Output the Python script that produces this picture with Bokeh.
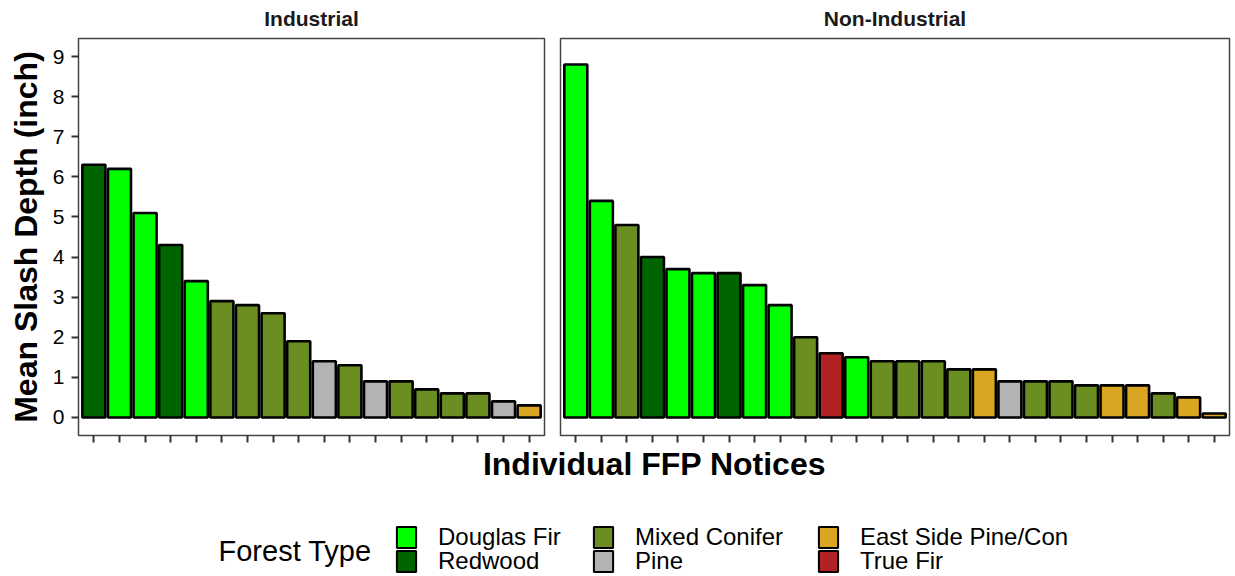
from bokeh.plotting import figure
from bokeh.layouts import column, row
from bokeh.models import ColumnDataSource, Range1d, FixedTicker, Label, Legend, LegendItem
from bokeh.transform import factor_cmap
from bokeh.embed import file_html
from bokeh.resources import INLINE

# ---------------- data ----------------
forest_types = ["Douglas Fir", "Redwood", "Mixed Conifer", "Pine", "East Side Pine/Con", "True Fir"]
type_colors = ["#00FF00", "#006400", "#6B8E23", "#B3B3B3", "#DAA520", "#B22222"]

ind_depth = [6.3, 6.2, 5.1, 4.3, 3.4, 2.9, 2.8, 2.6, 1.9, 1.4, 1.3, 0.9, 0.9, 0.7, 0.6, 0.6, 0.4, 0.3]
ind_type = ["Redwood", "Douglas Fir", "Douglas Fir", "Redwood", "Douglas Fir",
            "Mixed Conifer", "Mixed Conifer", "Mixed Conifer", "Mixed Conifer", "Pine",
            "Mixed Conifer", "Pine", "Mixed Conifer", "Mixed Conifer", "Mixed Conifer",
            "Mixed Conifer", "Pine", "East Side Pine/Con"]

nonind_depth = [8.8, 5.4, 4.8, 4.0, 3.7, 3.6, 3.6, 3.3, 2.8, 2.0, 1.6, 1.5, 1.4, 1.4, 1.4,
                1.2, 1.2, 0.9, 0.9, 0.9, 0.8, 0.8, 0.8, 0.6, 0.5, 0.1]
nonind_type = ["Douglas Fir", "Douglas Fir", "Mixed Conifer", "Redwood", "Douglas Fir",
               "Douglas Fir", "Redwood", "Douglas Fir", "Douglas Fir", "Mixed Conifer",
               "True Fir", "Douglas Fir", "Mixed Conifer", "Mixed Conifer", "Mixed Conifer",
               "Mixed Conifer", "East Side Pine/Con", "Pine", "Mixed Conifer", "Mixed Conifer",
               "Mixed Conifer", "East Side Pine/Con", "East Side Pine/Con", "Mixed Conifer",
               "East Side Pine/Con", "East Side Pine/Con"]

y_ticks = [0, 1, 2, 3, 4, 5, 6, 7, 8, 9]
panel_titles = ["Industrial", "Non-Industrial"]

FONT = "Liberation Sans"
W = 1235
STRIP_H = 36          # height of the facet-strip band above the panels
FRAME_TOP = 2         # gap between strip band and panel frame
FRAME_H = 397
BOTTOM = 12
PANEL_H = FRAME_TOP + FRAME_H + BOTTOM
# (canvas width, left border, right border) for the two panels
P1_W, P1_L, P1_R = 551, 78, 7
P2_W, P2_L, P2_R = 684, 9, 6
Y0, Y1 = -0.45, 9.45


def make_panel(depth, ftype, width, left, right, show_y):
    n = len(depth)
    src = ColumnDataSource(dict(x=list(range(1, n + 1)), top=depth, ftype=ftype))
    p = figure(width=width, height=PANEL_H, output_backend="svg", toolbar_location=None,
               title=None,
               x_range=Range1d(0.4, n + 0.6), y_range=Range1d(Y0, Y1),
               min_border_left=left, min_border_right=right,
               min_border_top=FRAME_TOP, min_border_bottom=BOTTOM,
               y_axis_location="left" if show_y else None)
    p.vbar(x="x", top="top", bottom=0, width=0.9, source=src,
           fill_color=factor_cmap("ftype", palette=type_colors, factors=forest_types),
           line_color="black", line_width=2.6)
    p.xgrid.visible = False
    p.ygrid.visible = False
    p.outline_line_color = "#444444"
    p.outline_line_width = 1.5
    p.background_fill_color = "white"
    p.border_fill_color = "white"

    xa = p.xaxis[0]
    xa.ticker = FixedTicker(ticks=list(range(1, n + 1)))
    xa.axis_line_color = None
    xa.major_tick_in = 0
    xa.major_tick_out = 7
    xa.major_tick_line_color = "#333333"
    xa.major_tick_line_width = 2
    xa.minor_tick_line_color = None
    xa.major_label_text_font_size = "1px"
    xa.major_label_text_alpha = 0
    xa.major_label_standoff = 0

    if show_y:
        ya = p.yaxis[0]
        ya.ticker = FixedTicker(ticks=y_ticks)
        ya.axis_line_color = None
        ya.major_tick_in = 0
        ya.major_tick_out = 7
        ya.major_tick_line_color = "#333333"
        ya.major_tick_line_width = 2
        ya.minor_tick_line_color = None
        ya.major_label_text_font = FONT
        ya.major_label_text_font_size = "21px"
        ya.major_label_text_color = "black"
        ya.major_label_standoff = 7
        ya.axis_label = "Mean Slash Depth (inch)"
        ya.axis_label_text_font = FONT
        ya.axis_label_text_font_size = "32px"
        ya.axis_label_text_font_style = "bold"
        ya.axis_label_text_color = "black"
        ya.axis_label_standoff = 6
    return p


p1 = make_panel(ind_depth, ind_type, P1_W, P1_L, P1_R, True)
p2 = make_panel(nonind_depth, nonind_type, P2_W, P2_L, P2_R, False)

# ---------------- top: facet strip titles ----------------
strip = figure(width=W, height=STRIP_H, output_backend="svg", toolbar_location=None,
               title=None, x_range=Range1d(0, W), y_range=Range1d(0, STRIP_H),
               min_border=0, x_axis_location=None, y_axis_location=None)
strip.xgrid.visible = False
strip.ygrid.visible = False
strip.outline_line_color = None
centers = [P1_L + (P1_W - P1_L - P1_R) / 2, P1_W + P2_L + (P2_W - P2_L - P2_R) / 2]
for t, cx in zip(panel_titles, centers):
    strip.add_layout(Label(x=cx, y=STRIP_H - 18, text=t, text_align="center",
                           text_baseline="middle", text_font=FONT, text_font_size="21px",
                           text_font_style="bold", text_color="#1a1a1a"))

# ---------------- bottom: shared x label + legend ----------------
TOP_TOTAL = STRIP_H + PANEL_H
BH = 576 - TOP_TOTAL
p3 = figure(width=W, height=BH, output_backend="svg", toolbar_location=None,
            title=None, x_range=Range1d(0, W), y_range=Range1d(0, BH),
            min_border=0, x_axis_location=None, y_axis_location=None)
p3.xgrid.visible = False
p3.ygrid.visible = False
p3.outline_line_color = None

p3.add_layout(Label(x=654, y=576 - 463, text="Individual FFP Notices", text_align="center",
                    text_baseline="middle", text_font=FONT, text_font_size="32px",
                    text_font_style="bold", text_color="black"))
p3.add_layout(Label(x=218, y=576 - 550, text="Forest Type", text_align="left",
                    text_baseline="middle", text_font=FONT, text_font_size="29px",
                    text_color="black"))

# legend-only proxy glyphs (hidden renderers, used only for legend keys)
proxies = {}
for t, c in zip(forest_types, type_colors):
    r = p3.vbar(x=[0], top=[1], bottom=0, width=1, fill_color=c,
                line_color="black", line_width=2)
    r.visible = False
    proxies[t] = r

grid = [("Douglas Fir", 394, 0), ("Redwood", 394, 1),
        ("Mixed Conifer", 591, 0), ("Pine", 591, 1),
        ("East Side Pine/Con", 816, 0), ("True Fir", 816, 1)]
row_bottom = [576 - 551, 576 - 575]
for nm, xpos, rr in grid:
    leg = Legend(items=[LegendItem(label=nm, renderers=[proxies[nm]])],
                 location=(xpos, row_bottom[rr]), orientation="vertical",
                 glyph_width=24, glyph_height=26, label_standoff=20,
                 label_text_font=FONT, label_text_font_size="24px", label_text_color="black",
                 label_height=20,
                 border_line_color=None, background_fill_alpha=0, padding=0, margin=0,
                 spacing=0)
    p3.add_layout(leg)

layout = column(strip, row(p1, p2), p3)
open("out.html", "w").write(file_html(layout, INLINE))
